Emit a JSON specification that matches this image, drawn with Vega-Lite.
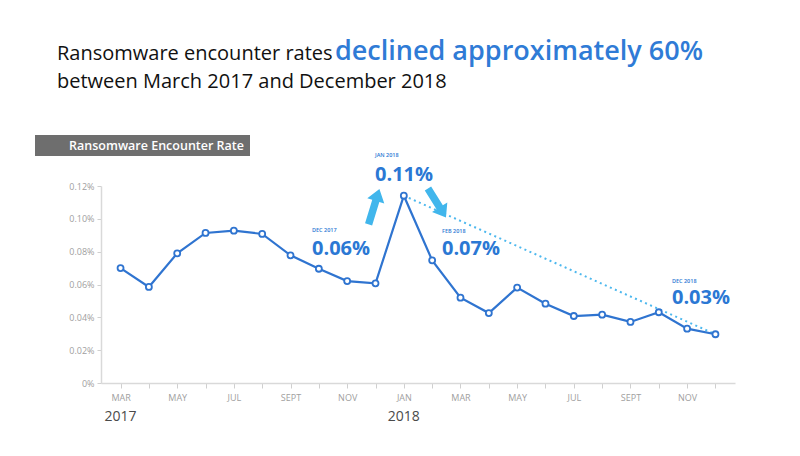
{
  "$schema": "https://vega.github.io/schema/vega-lite/v6.json",
  "width": 634,
  "height": 197,
  "autosize": {"type": "none"},
  "padding": {"left": 101, "top": 186, "right": 65, "bottom": 73},
  "background": "white",
  "config": {
    "view": {"stroke": null},
    "font": "Open Sans",
    "axis": {"labelOverlap": false}
  },
  "datasets": {
    "rates": [
      {"month": "2017-03", "rate": 0.0700},
      {"month": "2017-04", "rate": 0.0585},
      {"month": "2017-05", "rate": 0.0790},
      {"month": "2017-06", "rate": 0.0914},
      {"month": "2017-07", "rate": 0.0928},
      {"month": "2017-08", "rate": 0.0908},
      {"month": "2017-09", "rate": 0.0778},
      {"month": "2017-10", "rate": 0.0696},
      {"month": "2017-11", "rate": 0.0621},
      {"month": "2017-12", "rate": 0.0607},
      {"month": "2018-01", "rate": 0.1141},
      {"month": "2018-02", "rate": 0.0747},
      {"month": "2018-03", "rate": 0.0520},
      {"month": "2018-04", "rate": 0.0426},
      {"month": "2018-05", "rate": 0.0581},
      {"month": "2018-06", "rate": 0.0483},
      {"month": "2018-07", "rate": 0.0408},
      {"month": "2018-08", "rate": 0.0416},
      {"month": "2018-09", "rate": 0.0372},
      {"month": "2018-10", "rate": 0.0431},
      {"month": "2018-11", "rate": 0.0331},
      {"month": "2018-12", "rate": 0.0297}
    ],
    "trend": [
      {"month": "2018-01", "rate": 0.1141},
      {"month": "2018-12", "rate": 0.0297}
    ],
    "years": [
      {"month": "2017-03", "year": "2017"},
      {"month": "2018-01", "year": "2018"}
    ],
    "notes": [
      {"month": "2017-12", "rate": 0.0607, "label": "0.06%", "sub": "DEC 2017"},
      {"month": "2018-01", "rate": 0.1141, "label": "0.11%", "sub": "JAN 2018"},
      {"month": "2018-02", "rate": 0.0747, "label": "0.07%", "sub": "FEB 2018"},
      {"month": "2018-12", "rate": 0.0297, "label": "0.03%", "sub": "DEC 2018"}
    ],
    "header": [
      {
        "box": "Ransomware Encounter Rate",
        "line1": "Ransomware encounter rates",
        "headline": "declined approximately 60%",
        "line2": "between March 2017 and December 2018"
      }
    ]
  },
  "encoding": {
    "x": {
      "field": "month", "type": "ordinal",
      "scale": {"type": "point", "padding": 0.69},
      "axis": {
        "title": null,
        "labelAngle": 0,
        "labelOverlap": false,
        "labelExpr": "{'01':'JAN','03':'MAR','05':'MAY','07':'JUL','09':'SEPT','11':'NOV'}[substring(datum.value,5,7)] || ''",
        "labelFontSize": 9,
        "labelColor": "#a0a0a0",
        "labelPadding": 5,
        "tickColor": "#cfcfcf",
        "tickSize": 5,
        "domainColor": "#d9d9d9",
        "domainWidth": 1.5,
        "grid": false
      }
    },
    "y": {
      "field": "rate", "type": "quantitative",
      "scale": {"domain": [0, 0.12], "nice": false},
      "axis": {
        "title": null,
        "values": [0, 0.02, 0.04, 0.06, 0.08, 0.1, 0.12],
        "labelOverlap": false,
        "labelExpr": "datum.value == 0 ? '0%' : format(datum.value, '.2f') + '%'",
        "labelFontSize": 9,
        "labelColor": "#a0a0a0",
        "labelPadding": 3,
        "tickColor": "#cfcfcf",
        "tickSize": 4,
        "domainColor": "#d9d9d9",
        "domainWidth": 1.5,
        "grid": false
      }
    }
  },
  "layer": [
    {
      "data": {"name": "trend"},
      "mark": {"type": "line", "color": "#4db8ee", "strokeWidth": 2, "strokeDash": [2, 3.5], "clip": false}
    },
    {
      "data": {"name": "rates"},
      "mark": {"type": "line", "color": "#2f74d0", "strokeWidth": 2.2, "clip": false}
    },
    {
      "data": {"name": "rates"},
      "mark": {"type": "point", "filled": true, "fill": "white", "stroke": "#2f74d0", "strokeWidth": 1.8, "size": 36, "opacity": 1, "clip": false}
    },
    {
      "data": {"name": "header"},
      "mark": {"type": "text", "color": "#111111", "fontSize": 20, "align": "left", "baseline": "alphabetic"},
      "encoding": {
        "x": {"value": -44}, "y": {"value": -126},
        "text": {"field": "line1"}
      }
    },
    {
      "data": {"name": "header"},
      "mark": {"type": "text", "color": "#2f7bd6", "fontSize": 27, "fontWeight": 600, "align": "left", "baseline": "alphabetic"},
      "encoding": {
        "x": {"value": 234}, "y": {"value": -126},
        "text": {"field": "headline"}
      }
    },
    {
      "data": {"name": "header"},
      "mark": {"type": "text", "color": "#111111", "fontSize": 20, "align": "left", "baseline": "alphabetic"},
      "encoding": {
        "x": {"value": -44}, "y": {"value": -98},
        "text": {"field": "line2"}
      }
    },
    {
      "data": {"name": "header"},
      "mark": {"type": "rect", "color": "#6e6e6e"},
      "encoding": {
        "x": {"value": -66}, "x2": {"value": 149},
        "y": {"value": -51}, "y2": {"value": -30}
      }
    },
    {
      "data": {"name": "header"},
      "mark": {"type": "text", "color": "white", "fontSize": 12.5, "fontWeight": 600, "align": "right", "baseline": "alphabetic"},
      "encoding": {
        "x": {"value": 143}, "y": {"value": -36},
        "text": {"field": "box"}
      }
    },
    {
      "data": {"name": "notes"},
      "transform": [{"filter": "datum.month == '2017-12'"}],
      "mark": {"type": "point", "filled": true, "color": "#41b6ec", "opacity": 1, "size": 1369, "angle": 17,
        "shape": "M-0.2,1L-0.2,-0.33L-0.48,-0.33L0,-1L0.48,-0.33L0.2,-0.33L0.2,1Z"},
      "encoding": {
        "xOffset": {"value": -1.5},
        "yOffset": {"value": -76.7}
      }
    },
    {
      "data": {"name": "notes"},
      "transform": [{"filter": "datum.month == '2018-02'"}],
      "mark": {"type": "point", "filled": true, "color": "#41b6ec", "opacity": 1, "size": 1156, "angle": 148,
        "shape": "M-0.22,1L-0.22,-0.3L-0.53,-0.3L0,-1L0.53,-0.3L0.22,-0.3L0.22,1Z"},
      "encoding": {
        "xOffset": {"value": 4.8},
        "yOffset": {"value": -57.4}
      }
    },
    {
      "data": {"name": "notes"},
      "transform": [{"filter": "datum.month == '2017-12'"}],
      "mark": {"type": "text", "color": "#2b78d4", "fontSize": 20, "fontWeight": "bold", "align": "left", "baseline": "alphabetic", "dx": -63.5, "dy": -28.4},
      "encoding": {"text": {"field": "label"}}
    },
    {
      "data": {"name": "notes"},
      "transform": [{"filter": "datum.month == '2017-12'"}],
      "mark": {"type": "text", "color": "#2b78d4", "fontSize": 5.5, "fontWeight": 600, "align": "left", "baseline": "alphabetic", "dx": -63.5, "dy": -51.4},
      "encoding": {"text": {"field": "sub"}}
    },
    {
      "data": {"name": "notes"},
      "transform": [{"filter": "datum.month == '2018-01'"}],
      "mark": {"type": "text", "color": "#2b78d4", "fontSize": 20, "fontWeight": "bold", "align": "left", "baseline": "alphabetic", "dx": -28.8, "dy": -14.7},
      "encoding": {"text": {"field": "label"}}
    },
    {
      "data": {"name": "notes"},
      "transform": [{"filter": "datum.month == '2018-01'"}],
      "mark": {"type": "text", "color": "#2b78d4", "fontSize": 5.5, "fontWeight": 600, "align": "left", "baseline": "alphabetic", "dx": -28.8, "dy": -38.7},
      "encoding": {"text": {"field": "sub"}}
    },
    {
      "data": {"name": "notes"},
      "transform": [{"filter": "datum.month == '2018-02'"}],
      "mark": {"type": "text", "color": "#2b78d4", "fontSize": 20, "fontWeight": "bold", "align": "left", "baseline": "alphabetic", "dx": 9.8, "dy": -5.4},
      "encoding": {"text": {"field": "label"}}
    },
    {
      "data": {"name": "notes"},
      "transform": [{"filter": "datum.month == '2018-02'"}],
      "mark": {"type": "text", "color": "#2b78d4", "fontSize": 5.5, "fontWeight": 600, "align": "left", "baseline": "alphabetic", "dx": 9.8, "dy": -27.4},
      "encoding": {"text": {"field": "sub"}}
    },
    {
      "data": {"name": "notes"},
      "transform": [{"filter": "datum.month == '2018-12'"}],
      "mark": {"type": "text", "color": "#2b78d4", "fontSize": 20, "fontWeight": "bold", "align": "left", "baseline": "alphabetic", "dx": -43.5, "dy": -30.7},
      "encoding": {"text": {"field": "label"}}
    },
    {
      "data": {"name": "notes"},
      "transform": [{"filter": "datum.month == '2018-12'"}],
      "mark": {"type": "text", "color": "#2b78d4", "fontSize": 5.5, "fontWeight": 600, "align": "left", "baseline": "alphabetic", "dx": -43.5, "dy": -51.2},
      "encoding": {"text": {"field": "sub"}}
    },
    {
      "data": {"name": "years"},
      "mark": {"type": "text", "color": "#4a4a4a", "fontSize": 14, "align": "center", "baseline": "alphabetic", "dy": 38},
      "encoding": {
        "y": {"value": 197},
        "text": {"field": "year"}
      }
    }
  ]
}
